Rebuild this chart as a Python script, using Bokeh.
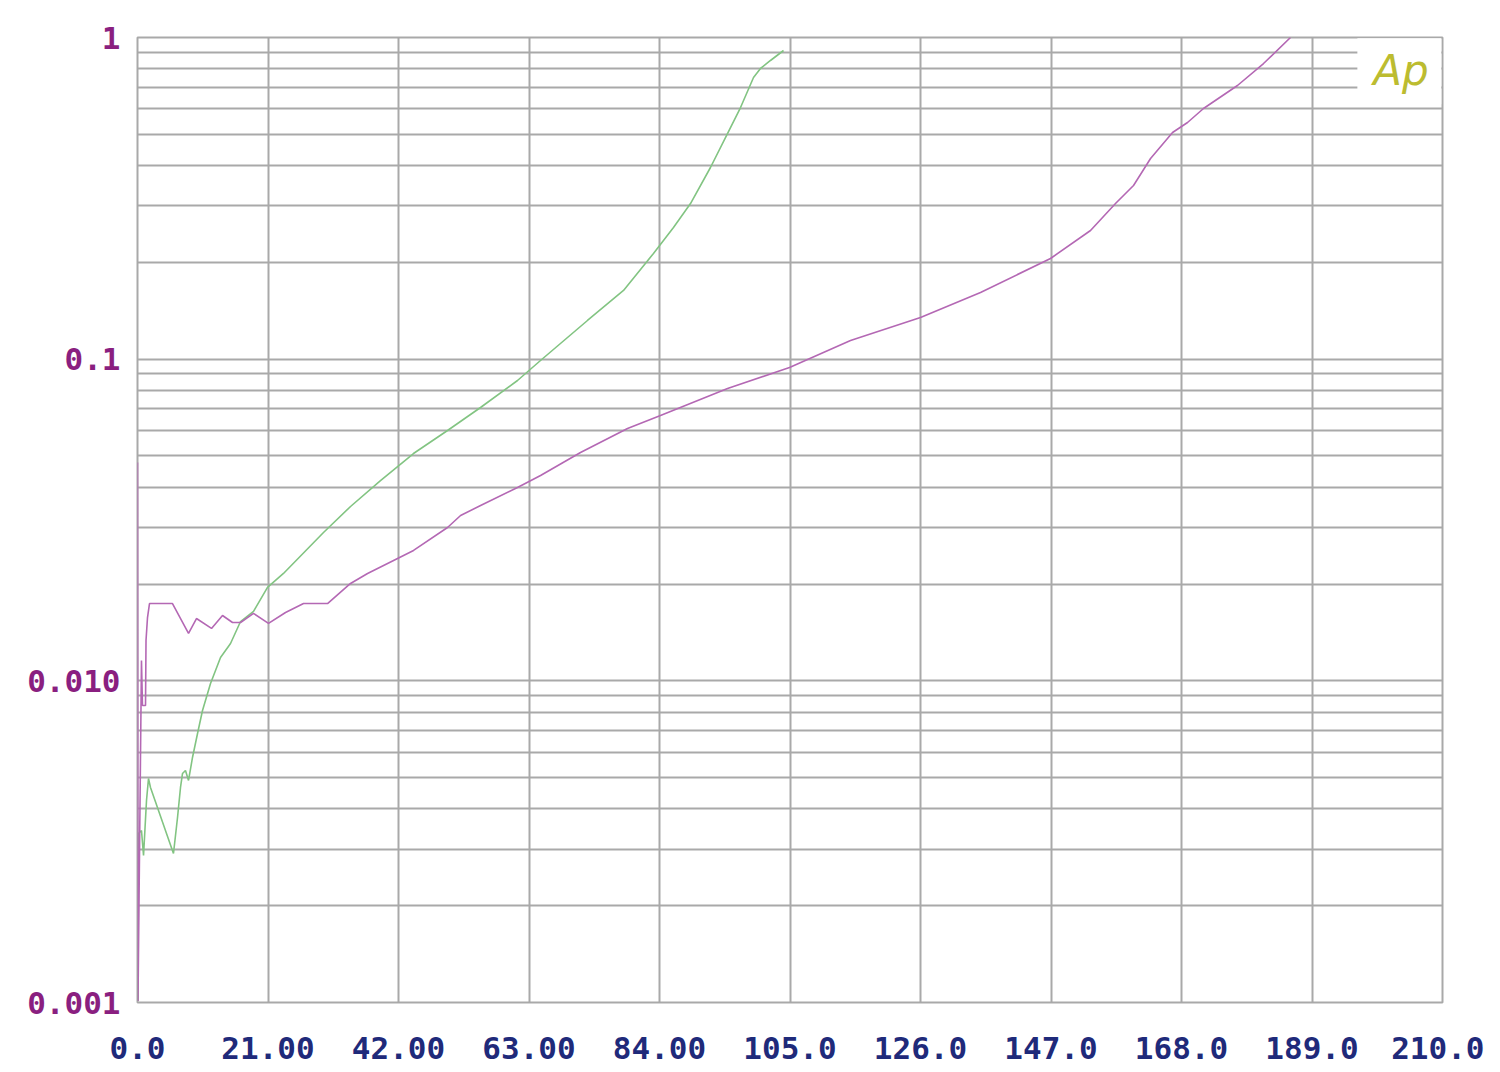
from bokeh.plotting import figure
from bokeh.models import FixedTicker, BoxAnnotation, Label, Range1d
from bokeh.embed import file_html
from bokeh.resources import INLINE

# ---- data ----
purple_x = [0.0, 0.08, 0.64, 0.80, 1.29, 1.37, 1.61, 1.93, 5.63, 8.21, 9.49, 11.91, 13.68,
            15.29, 16.58, 18.67, 21.08, 23.82, 26.72, 30.58, 34.28, 37.02, 41.85, 44.42,
            49.89, 51.99, 55.21, 61.15, 64.86, 71.29, 78.85, 84.16, 94.95, 104.92, 114.74,
            126.0, 135.66, 146.92, 153.36, 157.38, 160.28, 163.02, 166.56, 168.97, 171.54,
            177.01, 181.20, 185.54]
purple_y = [0.0477, 0.00101, 0.01157, 0.00838, 0.00838, 0.01335, 0.01573, 0.01739, 0.01739,
            0.01404, 0.01562, 0.01455, 0.01596, 0.01518, 0.01518, 0.01620, 0.01508, 0.01631,
            0.01739, 0.01739, 0.02008, 0.02157, 0.02401, 0.02543, 0.02997, 0.03266, 0.03508,
            0.03990, 0.04348, 0.05127, 0.06087, 0.06682, 0.08104, 0.09421, 0.1143, 0.1347,
            0.1612, 0.2056, 0.2512, 0.3047, 0.3467, 0.4206, 0.5066, 0.5441, 0.6015, 0.7092,
            0.8300, 1.0]

green_x = [0.08, 0.16, 0.64, 0.97, 1.45, 1.77, 2.09, 5.79, 6.44, 6.92, 7.24, 7.72, 8.21, 8.85,
           9.66, 10.46, 11.75, 13.36, 14.97, 16.58, 18.67, 20.92, 23.49, 29.93, 34.28, 39.10,
           44.41, 49.89, 55.20, 61.15, 64.85, 72.41, 78.21, 83.03, 86.25, 88.99, 92.20, 94.94,
           97.04, 99.13, 100.25, 101.86, 103.96]
green_y = [0.00101, 0.003352, 0.003425, 0.002864, 0.004246, 0.004970, 0.004661, 0.002905,
           0.003760, 0.004661, 0.005150, 0.005263, 0.004900, 0.005778, 0.006861, 0.008087,
           0.009811, 0.01182, 0.01306, 0.01529, 0.01643, 0.01951, 0.02157, 0.02892, 0.03483,
           0.04195, 0.05089, 0.06000, 0.07075, 0.08585, 0.09906, 0.1319, 0.1635, 0.2131,
           0.2566, 0.3047, 0.3943, 0.5029, 0.6058, 0.7510, 0.8010, 0.8482, 0.9112]

x_ticks = [0, 21, 42, 63, 84, 105, 126, 147, 168, 189, 210]
x_labels = ["0.0", "21.00", "42.00", "63.00", "84.00", "105.0", "126.0", "147.0",
            "168.0", "189.0", "210.0"]
y_ticks = [0.001, 0.01, 0.1, 1]
y_labels = ["0.001", "0.010", "0.1", "1"]
y_minor = [m * d for d in (0.001, 0.01, 0.1) for m in range(2, 10)]

GRID = "#a9a9a9"
FONT = "DejaVu Sans Mono"

p = figure(width=1484, height=1064, y_axis_type="log",
           x_range=Range1d(0, 210), y_range=Range1d(0.001, 1),
           output_backend="svg", toolbar_location=None,
           min_border_left=137, min_border_right=42, min_border_top=37, min_border_bottom=62)

p.background_fill_color = "white"
p.border_fill_color = "white"
p.outline_line_color = GRID
p.outline_line_width = 2

p.xaxis.ticker = FixedTicker(ticks=x_ticks)
p.xaxis.major_label_overrides = {t: l for t, l in zip(x_ticks, x_labels)}
p.yaxis.ticker = FixedTicker(ticks=y_ticks, minor_ticks=y_minor)
p.yaxis.major_label_overrides = {t: l for t, l in zip(y_ticks, y_labels)}

for ax in (p.xaxis, p.yaxis):
    ax.axis_line_color = None
    ax.major_tick_line_color = None
    ax.minor_tick_line_color = None
    ax.major_label_text_font = FONT
    ax.major_label_text_font_style = "bold"
    ax.major_label_text_font_size = "31px"

p.xaxis.major_label_text_color = "#1f2a7a"
p.yaxis.major_label_text_color = "#8a1f80"
p.xaxis.major_label_standoff = 28
p.yaxis.major_label_standoff = 11

p.xgrid.grid_line_color = GRID
p.xgrid.grid_line_width = 2
p.ygrid.grid_line_color = GRID
p.ygrid.grid_line_width = 2
p.ygrid.minor_grid_line_color = GRID
p.ygrid.minor_grid_line_width = 2

p.line(green_x, green_y, line_color="#82c482", line_width=1.6)
p.line(purple_x, purple_y, line_color="#b468b4", line_width=1.6)

# white logo box in the upper-right corner
p.add_layout(BoxAnnotation(left=196.3, right=209.8, bottom=0.62, top=0.995,
                           fill_color="white", fill_alpha=1.0, line_color=None))
p.add_layout(Label(x=203.3, y=0.79, text="Ap", text_align="center", text_baseline="middle",
                   text_font="DejaVu Sans", text_font_style="italic",
                   text_font_size="42px", text_color="#bcbc30"))

open("out.html", "w").write(file_html(p, INLINE))
